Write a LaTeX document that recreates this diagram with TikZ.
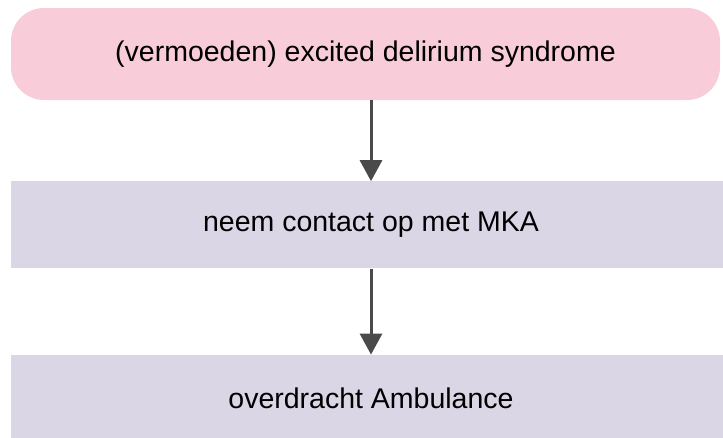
\documentclass[tikz,border=0pt]{standalone}
\usepackage{fontspec}
\setmainfont{Liberation Sans}
\usetikzlibrary{arrows.meta, positioning}
\definecolor{pinkfill}{HTML}{F8CCD8}
\definecolor{lavfill}{HTML}{DAD6E6}
\definecolor{arrowgray}{HTML}{4A4A4A}
\tikzset{
    startbox/.style={fill=pinkfill, rounded corners=33pt, minimum width=709pt, minimum height=92pt, inner sep=0pt, font=\fontsize{28.5}{34}\selectfont},
    stepbox/.style={fill=lavfill, minimum width=720pt, minimum height=87pt, inner sep=0pt, font=\fontsize{28.5}{34}\selectfont},
    flow/.style={draw=arrowgray, line width=3pt, -{Triangle[length=21pt,width=22pt]}, arrowgray}
}

\begin{document}
\begin{tikzpicture}[x=1pt,y=1pt]
        \useasboundingbox (0,0) rectangle (723,-437);
        \node[startbox]     (exdel)     at (365.5,-54)                      {(vermoeden) excited delirium syndrome};
        \node[stepbox]      (mka)       [below=81pt of exdel, xshift=5.5pt] {neem contact op met MKA};
        \node[stepbox]      (ambu)      [below=86pt of mka]                 {overdracht Ambulance};

        \draw[flow] (exdel.south -| mka.north) -- (mka.north);
        \draw[flow] (mka) -- (ambu);
    \end{tikzpicture}
\end{document}
